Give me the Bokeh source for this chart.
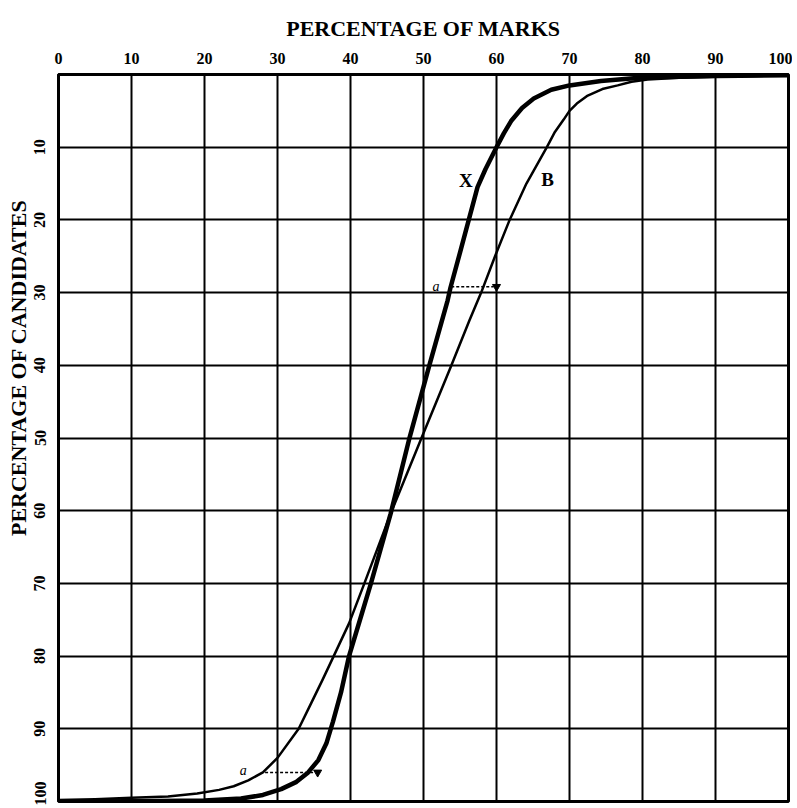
from bokeh.plotting import figure
from bokeh.models import Range1d, FixedTicker, Title
from bokeh.core.properties import value
from bokeh.embed import file_html
from bokeh.resources import INLINE

# Curve X (thick): percentage of marks vs percentage of candidates
x_marks = [0, 10, 20, 25, 28, 30.5, 32.6, 34.2, 35.6, 36.7, 37.6, 38.7, 39.8, 41.3, 42.8,
           45.5, 48, 50.8, 53.3, 53.7, 55, 56.2, 57.4, 58.5, 60, 61, 62, 63.5, 65.1,
           67.5, 70, 74.3, 80, 90, 100]
x_cands = [100, 99.95, 99.85, 99.6, 99.1, 98.3, 97.3, 96, 94.3, 92, 89, 85, 80, 75, 70,
           60.4, 50.3, 40, 31.1, 29.3, 24.5, 20, 15.5, 13, 10, 8.1, 6.4, 4.6, 3.3,
           2.1, 1.5, 0.9, 0.4, 0.2, 0.1]

# Curve B (thin)
b_marks = [0, 5, 10, 15, 19, 22, 24, 26, 28, 30, 32.9, 34.6, 36.2, 37.7, 39.8, 41.9, 45.5,
           49.6, 53.7, 56.3, 57.9, 59.8, 61.8, 64.1, 66.9, 68, 69.2, 70, 71, 72.5, 74.5,
           76.6, 78.5, 80.7, 85, 90, 100]
b_cands = [99.8, 99.7, 99.5, 99.3, 98.9, 98.4, 97.9, 97.1, 96, 94, 90, 86.5, 83.2, 80, 75.5,
           70, 60.4, 50.3, 40.3, 33.8, 30, 25, 20, 15, 10, 7.9, 6.2, 5.0, 4.0, 2.9, 2.0,
           1.5, 1.0, 0.7, 0.45, 0.3, 0.1]

# Dashed "a" connectors
dash_x0 = [53.8, 28.3]
dash_x1 = [59.6, 34.9]
dash_y = [29.2, 96.0]
arrow_x = [60.0, 35.5]
a_x = [52.2, 25.8]
a_y = [29.2, 95.8]

curve_names = ["X", "B"]
curve_lx = [55.8, 67.0]
curve_ly = [14.6, 14.4]

x_ticks = [0, 10, 20, 30, 40, 50, 60, 70, 80, 90, 100]
y_ticks = [10, 20, 30, 40, 50, 60, 70, 80, 90, 100]

FONT = "Liberation Serif"
TFONT = "Liberation Serif"

p = figure(width=792, height=805, output_backend="svg", toolbar_location=None,
           x_range=Range1d(0, 100), y_range=Range1d(100, 0),
           x_axis_location="above", y_axis_location="left",
           min_border_left=58, min_border_right=4, min_border_top=74, min_border_bottom=4)

p.background_fill_color = "white"
p.border_fill_color = "white"
p.outline_line_color = "black"
p.outline_line_width = 3

for ax in (p.xaxis[0], p.yaxis[0]):
    ax.ticker = FixedTicker(ticks=x_ticks if ax is p.xaxis[0] else y_ticks)
    ax.axis_line_color = "black"
    ax.axis_line_width = 3
    ax.major_tick_line_color = None
    ax.minor_tick_line_color = None
    ax.major_label_text_font = FONT
    ax.major_label_text_font_style = "bold"
    ax.major_label_text_font_size = "16px"
    ax.major_label_text_color = "black"
    ax.axis_label_text_font = TFONT
    ax.axis_label_text_font_style = "bold"
    ax.axis_label_text_color = "black"

p.xaxis.axis_label = "PERCENTAGE OF MARKS"
p.xaxis.axis_label_text_font_size = "22px"
p.xaxis.major_label_standoff = 5
p.xaxis.axis_label_standoff = 9

p.yaxis.major_label_orientation = "vertical"
p.yaxis.major_label_standoff = 7

ylab = Title(text="PERCENTAGE OF CANDIDATES", align="right", offset=125, standoff=2,
             text_font=TFONT, text_font_style="bold", text_font_size="22px",
             text_color="black")
p.add_layout(ylab, "left")

p.xgrid.ticker = FixedTicker(ticks=x_ticks)
p.ygrid.ticker = FixedTicker(ticks=y_ticks)
for g in (p.xgrid[0], p.ygrid[0]):
    g.grid_line_color = "black"
    g.grid_line_width = 2
    g.grid_line_alpha = 1.0

p.line(b_marks, b_cands, line_color="black", line_width=2.5, line_join="round")
p.line(x_marks, x_cands, line_color="black", line_width=4.5, line_join="round")

p.segment(x0=dash_x0, y0=dash_y, x1=dash_x1, y1=dash_y, line_color="black",
          line_width=1.5, line_dash="3 2")
p.scatter(arrow_x, dash_y, marker="inverted_triangle", size=8, color="black")

p.text(x=a_x, y=a_y, text=["a", "a"], text_font=value(FONT), text_font_style="italic",
       text_font_size="14px", text_align="right", text_baseline="middle", text_color="black")

p.text(x=curve_lx, y=curve_ly, text=curve_names, text_font=value(FONT),
       text_font_style="bold", text_font_size="19px", text_align="center",
       text_baseline="middle", text_color="black")

open("out.html", "w").write(file_html(p, INLINE))
